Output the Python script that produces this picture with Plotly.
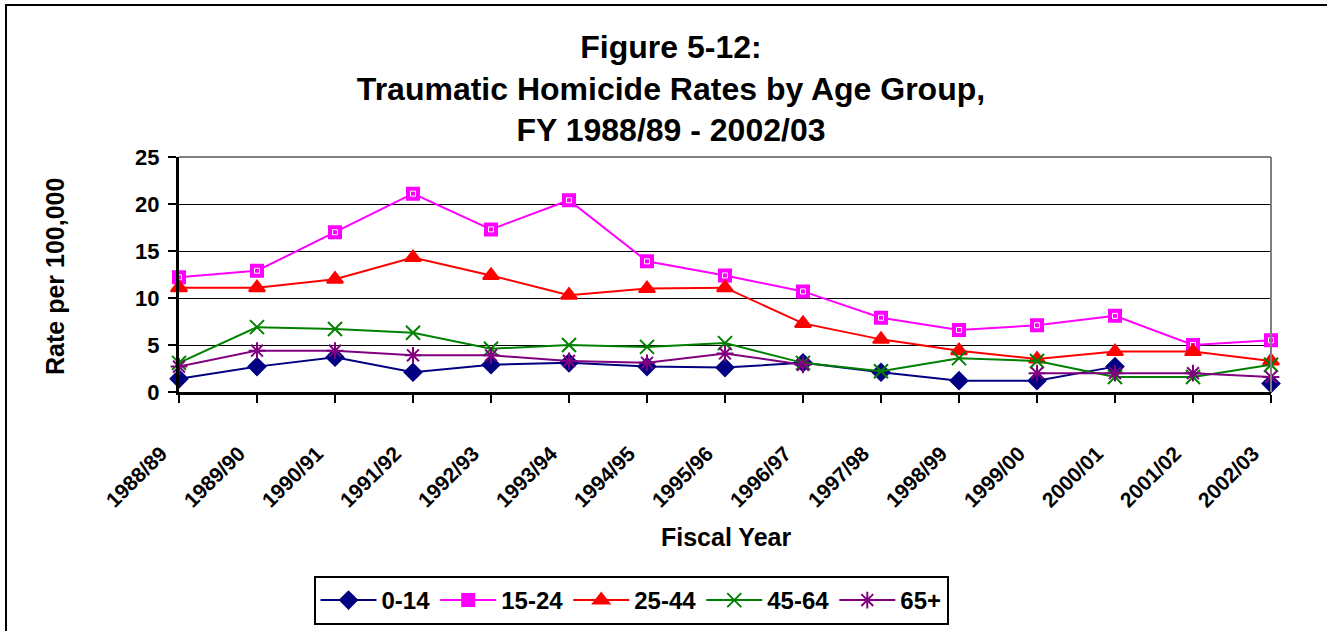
import plotly.graph_objects as go

fiscal_years = ["1988/89", "1989/90", "1990/91", "1991/92", "1992/93", "1993/94", "1994/95",
                "1995/96", "1996/97", "1997/98", "1998/99", "1999/00", "2000/01", "2001/02", "2002/03"]
age_0_14 = [1.4, 2.7, 3.7, 2.1, 2.9, 3.1, 2.7, 2.6, 3.1, 2.1, 1.2, 1.2, 2.7, None, 0.9]
age_15_24 = [12.2, 12.9, 17.0, 21.1, 17.3, 20.4, 13.9, 12.4, 10.7, 7.9, 6.6, 7.1, 8.1, 5.0, 5.5]
age_25_44 = [11.1, 11.1, 12.0, 14.3, 12.4, 10.3, 11.0, 11.1, 7.3, 5.6, 4.4, 3.5, 4.3, 4.3, 3.3]
age_45_64 = [3.1, 6.9, 6.7, 6.3, 4.6, 5.0, 4.8, 5.2, 3.1, 2.2, 3.6, 3.3, 1.6, 1.6, 2.9]
age_65_plus = [2.7, 4.4, 4.4, 3.9, 3.9, 3.3, 3.1, 4.1, 2.9, None, None, 2.0, 2.0, 2.0, 1.6]

series_names = ["0-14", "15-24", "25-44", "45-64", "65+"]
series_values = [age_0_14, age_15_24, age_25_44, age_45_64, age_65_plus]
series_colors = ["#000080", "#FF00FF", "#FF0000", "#008000", "#800080"]
series_symbols = ["diamond", "square", "triangle-up", "x-thin-open", "asterisk-open"]
series_sizes = [13, 12, 14, 14, 14]

W, H = 1327, 631
L, R, T, B = 179, 56, 157, 239
pw, ph = W - L - R, H - T - B

FONT = "Liberation Sans, Arial, sans-serif"

fig = go.Figure()
for name, vals, col, sym, sz in zip(series_names, series_values, series_colors, series_symbols, series_sizes):
    fig.add_trace(go.Scatter(
        x=fiscal_years, y=vals, name=name, mode="lines+markers",
        line=dict(color=col, width=2),
        marker=dict(symbol=sym, size=sz, color=col, line=dict(color=col, width=2)),
        cliponaxis=False, connectgaps=False,
    ))
    if sym == "square":
        fig.add_trace(go.Scatter(
            x=fiscal_years, y=vals, mode="markers", showlegend=False, hoverinfo="skip",
            marker=dict(symbol="square-open", size=5, color="white", line=dict(color="white", width=1)),
            cliponaxis=False,
        ))


def px_x(px):
    return (px - L) / pw


def px_y(py):
    return (H - B - py) / ph


shapes = [
    dict(type="rect", xref="paper", yref="paper", x0=px_x(6), x1=px_x(1345), y0=px_y(645), y1=px_y(5),
         line=dict(color="black", width=2), fillcolor="rgba(0,0,0,0)", layer="above"),
    dict(type="line", xref="paper", yref="paper", x0=0, x1=1, y0=1, y1=1, line=dict(color="#808080", width=2)),
    dict(type="line", xref="paper", yref="paper", x0=1, x1=1, y0=0, y1=1, line=dict(color="#808080", width=2)),
]

annotations = [
    dict(text="<b>Fiscal Year</b>", xref="paper", yref="paper", x=px_x(726), y=px_y(537),
         xanchor="center", yanchor="middle", showarrow=False,
         font=dict(size=25, family=FONT, color="black")),
    dict(text="<b>Rate per 100,000</b>", xref="paper", yref="paper", x=px_x(55), y=px_y(277),
         xanchor="center", yanchor="middle", showarrow=False, textangle=-90,
         font=dict(size=25, family=FONT, color="black")),
]

fig.update_layout(
    width=W, height=H,
    margin=dict(l=L, r=R, t=T, b=B, autoexpand=False),
    paper_bgcolor="white", plot_bgcolor="white",
    font=dict(family=FONT, color="black"),
    title=dict(
        text="<b>Figure 5-12:<br>Traumatic Homicide Rates by Age Group,<br>FY 1988/89 - 2002/03</b>",
        x=671 / W, xanchor="center", xref="container",
        y=1 - 58 / H, yanchor="middle", yref="container",
        font=dict(size=32, family=FONT, color="black"),
    ),
    xaxis=dict(
        type="category", range=[0, len(fiscal_years) - 1],
        showline=True, linecolor="black", linewidth=3,
        ticks="outside", ticklen=8, tickwidth=2, tickcolor="black",
        tickangle=-45, ticklabelstandoff=30, ticklabelshift=-18,
        tickfont=dict(size=21, family=FONT, color="black", weight="bold"),
        showgrid=False, zeroline=False,
    ),
    yaxis=dict(
        range=[0, 25], dtick=5, tick0=0,
        showline=True, linecolor="black", linewidth=3,
        ticks="outside", ticklen=8, tickwidth=2, tickcolor="black",
        ticklabelstandoff=4,
        tickfont=dict(size=22, family=FONT, color="black", weight="bold"),
        showgrid=True, gridcolor="black", gridwidth=1.2, zeroline=False,
    ),
    legend=dict(
        orientation="h", x=px_x(631), xanchor="center", y=px_y(576), yanchor="top",
        bordercolor="black", borderwidth=2, bgcolor="white",
        font=dict(size=24, family=FONT, color="black", weight="bold"),
        itemwidth=56,
    ),
    shapes=shapes,
    annotations=annotations,
    showlegend=True,
)

fig.write_html("out.html", config={"displayModeBar": False},
               post_script="document.body.style.margin='0';")
